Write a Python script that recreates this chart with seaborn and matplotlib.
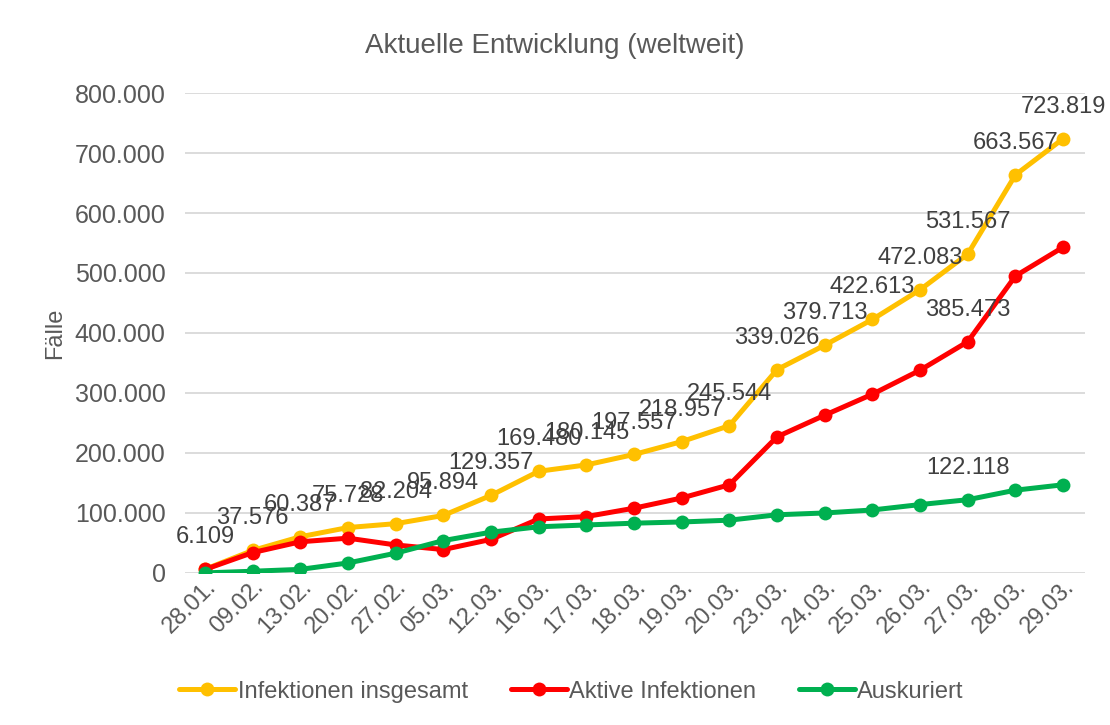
import seaborn as sns
import matplotlib.pyplot as plt
import pandas as pd
from matplotlib.ticker import FuncFormatter

# Daten
dates = ['28.01.', '09.02.', '13.02.', '20.02.', '27.02.', '05.03.', '12.03.', '16.03.', '17.03.', '18.03.',
         '19.03.', '20.03.', '23.03.', '24.03.', '25.03.', '26.03.', '27.03.', '28.03.', '29.03.']
insgesamt = [6109, 37576, 60387, 75728, 82204, 95894, 129357, 169480, 180145, 197557,
             218957, 245544, 339026, 379713, 422613, 472083, 531567, 663567, 723819]
aktiv = [5900, 34000, 52000, 58000, 46700, 39000, 56000, 90000, 94000, 108000,
         125000, 147000, 227000, 263000, 298000, 338000, 385473, 495000, 543000]
auskuriert = [120, 2900, 6000, 16700, 33000, 54000, 68000, 77000, 80000, 83000,
              85000, 88000, 97000, 100000, 105000, 114000, 122118, 138000, 147000]
series_names = ['Infektionen insgesamt', 'Aktive Infektionen', 'Auskuriert']
colors = ['#FFC000', '#FF0000', '#00B050']

df = pd.concat([
    pd.DataFrame({'Datum': dates, 'Fälle': vals, 'Serie': name})
    for name, vals in zip(series_names, [insgesamt, aktiv, auskuriert])
])

sns.set_style('white')
plt.rcParams['font.family'] = ['Liberation Sans', 'DejaVu Sans']
text_color = '#595959'

fig = plt.figure(figsize=(11.1, 7.25), dpi=100)
ax = fig.add_axes([0.1667, 0.2097, 0.8108, 0.662])

sns.lineplot(data=df, x='Datum', y='Fälle', hue='Serie', palette=dict(zip(series_names, colors)),
             marker='o', markersize=10, markeredgewidth=0, linewidth=3.6, sort=False, ax=ax, zorder=3)

ax.set_ylim(0, 800000)
ax.set_xlim(-0.42, len(dates) - 1 + 0.46)
ax.set_yticks(range(0, 800001, 100000))
ax.yaxis.set_major_formatter(FuncFormatter(lambda v, _: f'{int(v):,}'.replace(',', '.')))
ax.grid(True, axis='y', color='#D9D9D9', linewidth=1.3, zorder=0)
for s in ax.spines.values():
    s.set_visible(False)

ax.tick_params(axis='y', labelsize=18, colors=text_color, length=0, pad=14)
ax.tick_params(axis='x', labelsize=17, colors=text_color, length=0, pad=2)
plt.setp(ax.get_xticklabels(), rotation=45, ha='right', rotation_mode='anchor')

ax.set_xlabel('')
ax.set_ylabel('Fälle', fontsize=17, color=text_color, labelpad=6)
fig.text(0.5, 0.937, 'Aktuelle Entwicklung (weltweit)', ha='center', va='center', fontsize=20, color=text_color)

# Datenbeschriftungen
def fmt(v):
    return f'{v:,}'.replace(',', '.')

for i, v in enumerate(insgesamt):
    ax.annotate(fmt(v), (i, v), xytext=(0, 23), textcoords='offset points', ha='center', va='center',
                fontsize=17, color='#404040', zorder=5)
idx = dates.index('27.03.')
for vals in [aktiv, auskuriert]:
    ax.annotate(fmt(vals[idx]), (idx, vals[idx]), xytext=(0, 23), textcoords='offset points', ha='center',
                va='center', fontsize=17, color='#404040', zorder=5)

ax.get_legend().remove()
handles, labels = ax.get_legend_handles_labels()
fig.legend(handles, labels, loc='center', bbox_to_anchor=(0.515, 0.046), ncol=3, frameon=False,
           fontsize=17, labelcolor=text_color, handlelength=2.37, handletextpad=0.1, columnspacing=1.82)

fig.savefig('out.png', dpi=100)
